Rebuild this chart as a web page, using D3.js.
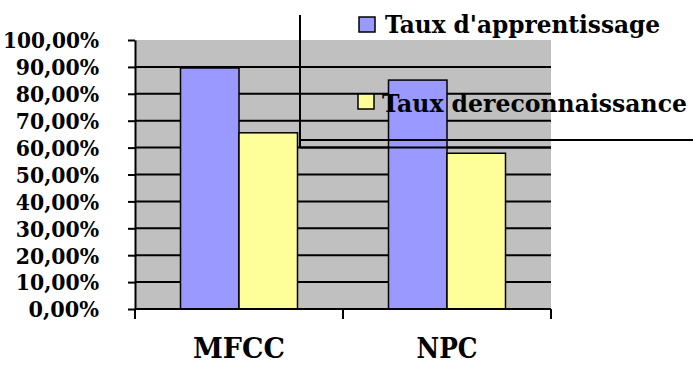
<!DOCTYPE html>
<html>
<head>
<meta charset="utf-8">
<script src="https://cdn.jsdelivr.net/npm/d3@7"></script>
<style>
  html, body { margin: 0; padding: 0; background: #ffffff; }
  svg { display: block; }
  svg text { font-family: "DejaVu Serif Condensed", "DejaVu Serif", serif; font-weight: bold; fill: #000; }
</style>
</head>
<body>
<svg id="chart" width="693" height="365"></svg>
<script>
// Recognition results per feature type
const categories = ["MFCC", "NPC"];
const seriesNames = ["Taux d'apprentissage", "Taux dereconnaissance"];
const apprentissage = [0.896, 0.851];
const reconnaissance = [0.655, 0.579];
const yTicks = [0, 0.1, 0.2, 0.3, 0.4, 0.5, 0.6, 0.7, 0.8, 0.9, 1.0];
const colors = ["#9999ff", "#ffff99"];

const svg = d3.select("#chart");
const plot = { left: 135, right: 551, top: 40, bottom: 309 };

const y = d3.scaleLinear().domain([0, 1]).range([plot.bottom, plot.top]);
const x0 = d3.scaleBand().domain(categories).range([plot.left, plot.right]).padding(0);
const x1 = d3.scaleBand().domain(seriesNames).range([0, x0.bandwidth()])
  .paddingInner(0).paddingOuter(0.778);

const rows = categories.map((c, i) => ({
  cat: c,
  vals: [
    { s: seriesNames[0], v: apprentissage[i], col: colors[0] },
    { s: seriesNames[1], v: reconnaissance[i], col: colors[1] }
  ]
}));

// Plot background
svg.append("rect")
  .attr("x", plot.left).attr("y", plot.top)
  .attr("width", plot.right - plot.left).attr("height", plot.bottom - plot.top)
  .attr("fill", "#c0c0c0");

// Horizontal gridlines
svg.append("g").selectAll("line")
  .data(yTicks.filter(t => t > 0 && t < 1))
  .join("line")
  .attr("x1", plot.left).attr("x2", plot.right)
  .attr("y1", d => y(d)).attr("y2", d => y(d))
  .attr("stroke", "#000").attr("stroke-width", 2);

// Bars
svg.append("g").selectAll("g")
  .data(rows)
  .join("g")
  .attr("transform", d => `translate(${x0(d.cat)},0)`)
  .selectAll("rect")
  .data(d => d.vals)
  .join("rect")
  .attr("x", d => x1(d.s))
  .attr("width", x1.bandwidth())
  .attr("y", d => y(d.v))
  .attr("height", d => y(0) - y(d.v))
  .attr("fill", d => d.col)
  .attr("stroke", "#000").attr("stroke-width", 1.5);

// Value axis (Times-like metrics: digits 0.5em, comma 0.25em, percent 1em)
const fmt = d => d3.format(".2f")(d * 100).replace(".", ",") + "%";
const labelWidth = s => 25.6 * (0.5 * (s.length - 2) + 1.25);
const yAxis = svg.append("g")
  .attr("transform", `translate(${plot.left},0)`)
  .call(d3.axisLeft(y).tickValues(yTicks).tickFormat(fmt).tickSize(7).tickSizeOuter(0).tickPadding(29));
yAxis.attr("font-family", null).attr("font-size", null);
yAxis.select(".domain").attr("stroke", "#000").attr("stroke-width", 2);
yAxis.selectAll(".tick line").attr("stroke", "#000").attr("stroke-width", 2);
yAxis.selectAll(".tick text")
  .attr("dy", "0.34em")
  .style("font-size", "23px")
  .attr("textLength", d => labelWidth(fmt(d)))
  .attr("lengthAdjust", "spacingAndGlyphs");

// Category axis: baseline, boundary ticks and labels
svg.append("line")
  .attr("x1", plot.left).attr("x2", plot.right)
  .attr("y1", plot.bottom).attr("y2", plot.bottom)
  .attr("stroke", "#000").attr("stroke-width", 2);
const bounds = [x0(categories[0])].concat(categories.map(c => x0(c) + x0.bandwidth()));
svg.append("g").selectAll("line")
  .data(bounds)
  .join("line")
  .attr("x1", d => d).attr("x2", d => d)
  .attr("y1", plot.bottom).attr("y2", plot.bottom + 10)
  .attr("stroke", "#000").attr("stroke-width", 2);
const catWidth = { MFCC: 92, NPC: 61 };
svg.append("g").selectAll("text")
  .data(categories)
  .join("text")
  .attr("x", d => x0(d) + x0.bandwidth() / 2)
  .attr("y", 358)
  .attr("text-anchor", "middle")
  .style("font-size", "27px")
  .attr("textLength", d => catWidth[d])
  .attr("lengthAdjust", "spacingAndGlyphs")
  .text(d => d);

// Legend frame
const frame = svg.append("g").attr("stroke", "#000").attr("stroke-width", 2);
frame.append("line").attr("x1", 300).attr("x2", 300).attr("y1", 15).attr("y2", 147);
frame.append("line").attr("x1", 300).attr("x2", 693).attr("y1", 140).attr("y2", 140);
frame.append("line").attr("x1", 300).attr("x2", plot.right).attr("y1", y(0.6)).attr("y2", y(0.6));

// Legend entries
const legend = [
  { name: seriesNames[0], col: colors[0], sx: 359, sy: 17, tx: 385, ty: 33, w: 275 },
  { name: seriesNames[1], col: colors[1], sx: 358, sy: 94, tx: 382, ty: 112, w: 305 }
];
const lg = svg.append("g").selectAll("g").data(legend).join("g");
lg.append("rect")
  .attr("x", d => d.sx).attr("y", d => d.sy)
  .attr("width", 16).attr("height", 15)
  .attr("fill", d => d.col).attr("stroke", "#000").attr("stroke-width", 1.5);
lg.append("text")
  .attr("x", d => d.tx).attr("y", d => d.ty)
  .style("font-size", "25px")
  .attr("textLength", d => d.w)
  .attr("lengthAdjust", "spacingAndGlyphs")
  .text(d => d.name);
</script>
</body>
</html>
